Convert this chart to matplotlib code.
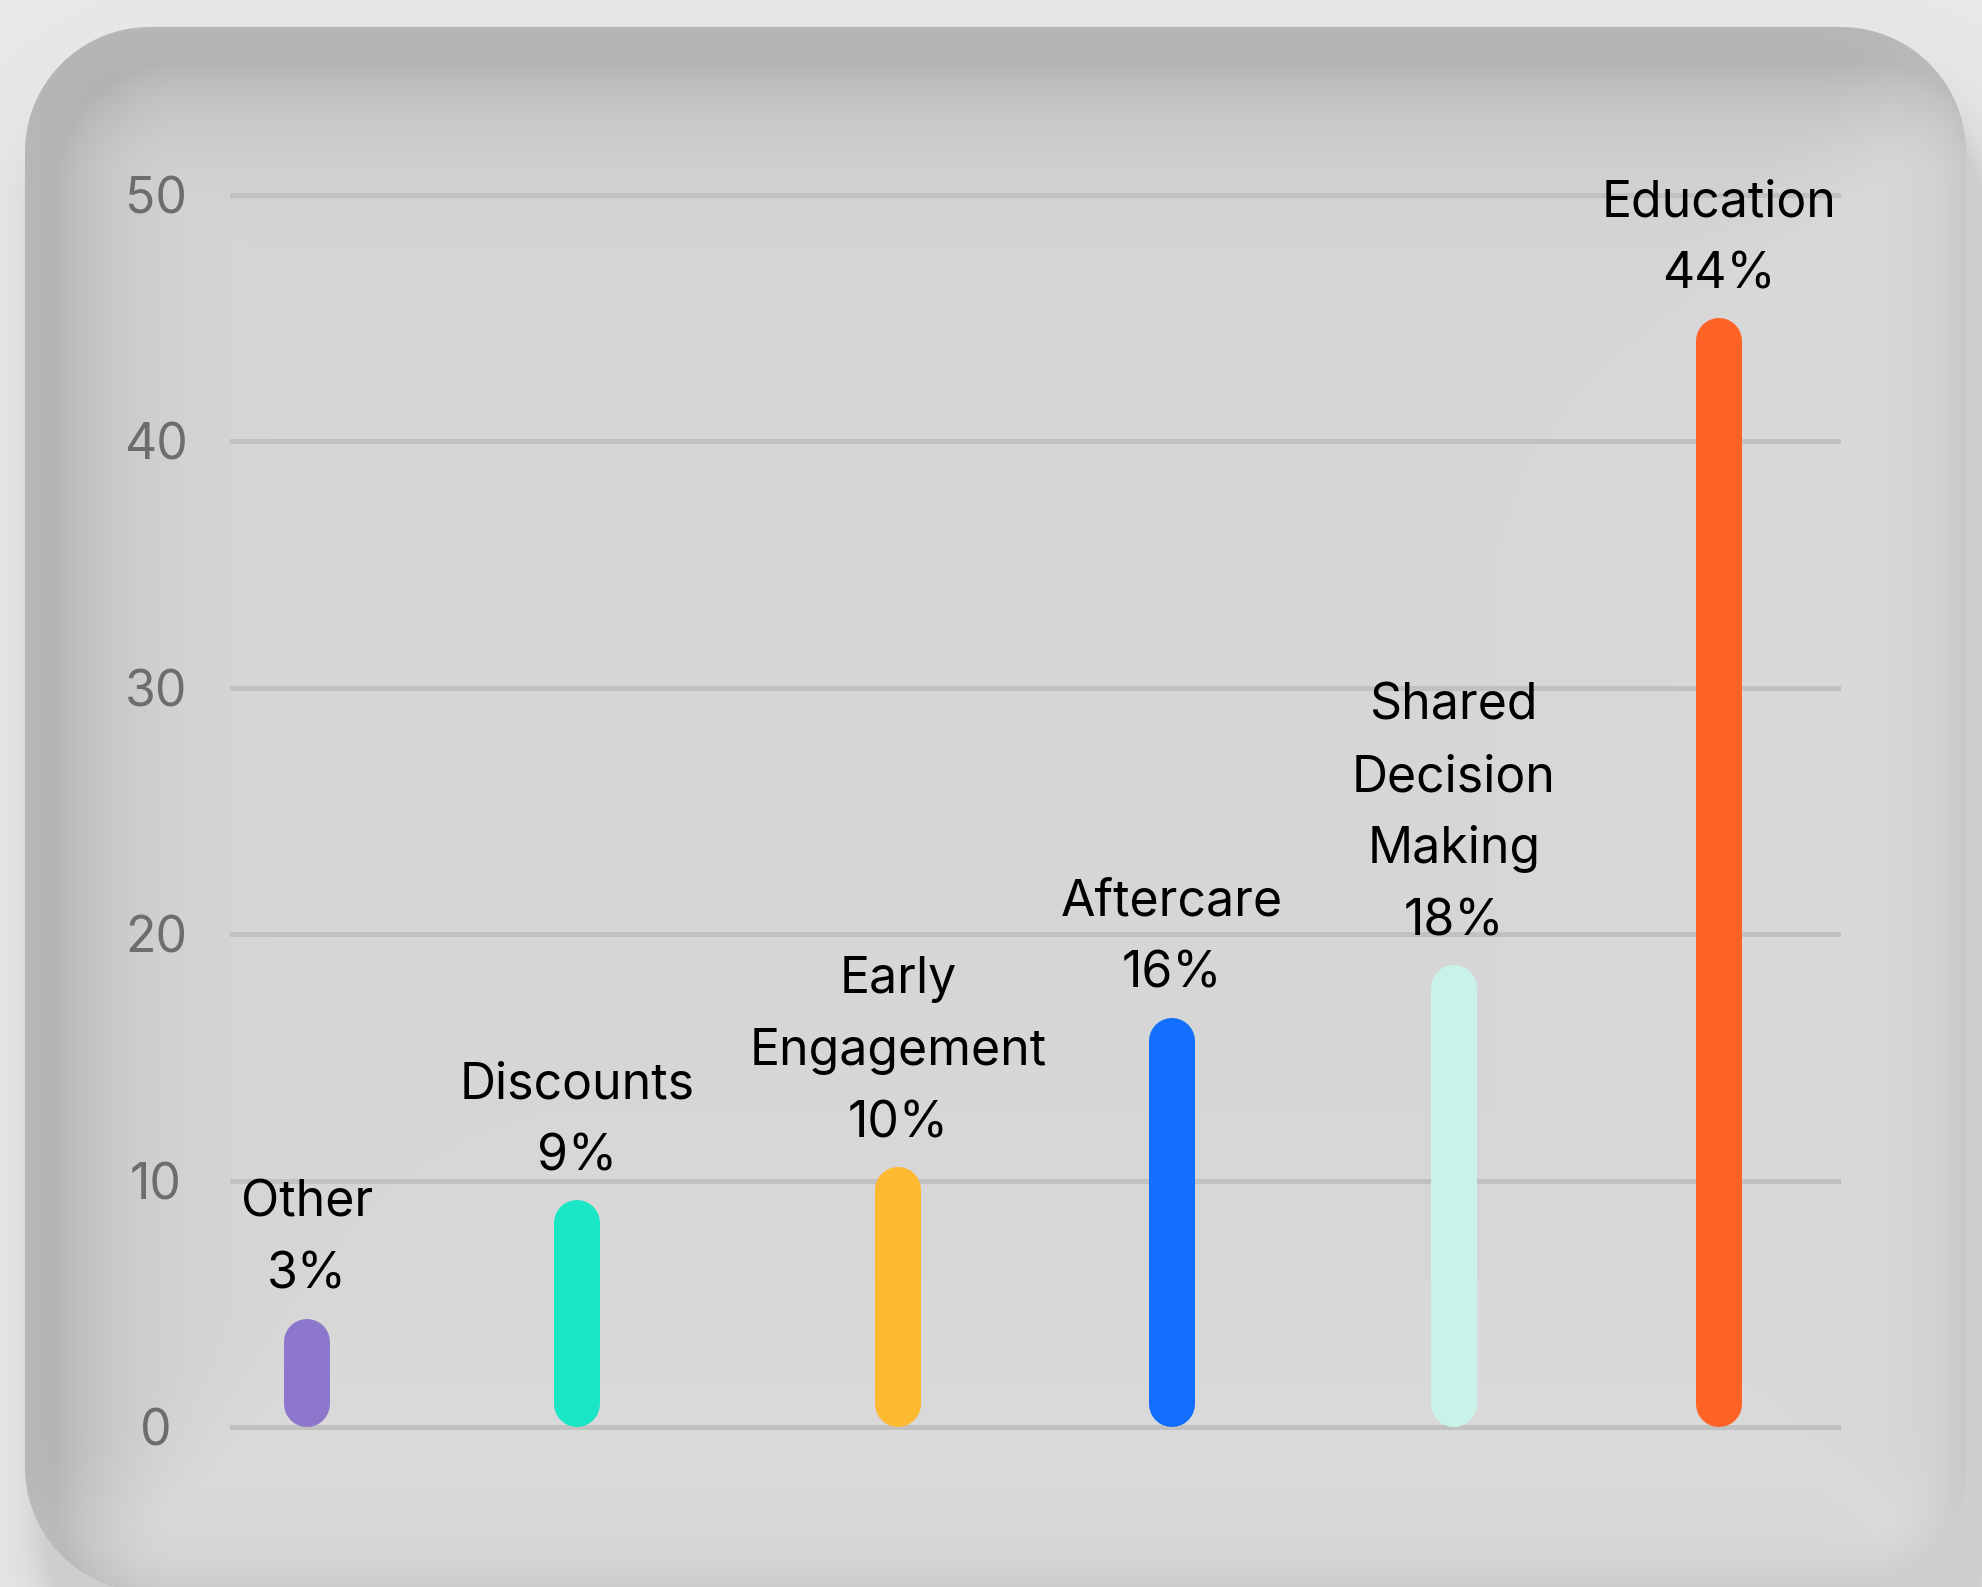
import numpy as np
import matplotlib
matplotlib.use("Agg")
import matplotlib.pyplot as plt

# donnees
categories = ["Other", "Discounts", "Early\nEngagement", "Aftercare", "Shared\nDecision\nMaking", "Education"]
pct_labels = ["3%", "9%", "10%", "16%", "18%", "44%"]
bar_heights = [4.4, 9.2, 10.55, 16.6, 18.75, 45.0]
colors = ["#8d77cd", "#1ae5c4", "#feb933", "#126ffe", "#c9f2ea", "#ff6225"]
yticks = [0, 10, 20, 30, 40, 50]

# mise en page (pixels de la figure)
W, H = 1983, 1587
DPI = 100
bar_x = [307, 577, 898, 1172, 1454, 1719]
x_left, x_right = 230, 1841
y_zero, y_fifty = 1427, 195
tick_center = 156
bar_w = 46
gap = 30
line_h = 72
fs = 36

plt.rcParams['font.family'] = ['Inter', 'DejaVu Sans']

fig = plt.figure(figsize=(W / DPI, H / DPI), dpi=DPI)


def sdf_rr(px, py, x0, y0, x1, y1, r):
    '''distance signee a un rectangle arrondi'''
    cx, cy = (x0 + x1) / 2, (y0 + y1) / 2
    hw, hh = (x1 - x0) / 2, (y1 - y0) / 2
    qx = np.abs(px - cx) - (hw - r)
    qy = np.abs(py - cy) - (hh - r)
    out = np.hypot(np.maximum(qx, 0), np.maximum(qy, 0))
    return out + np.minimum(np.maximum(qx, qy), 0) - r


# fond : carte arrondie avec ombre interieure
yy, xx = np.mgrid[0:H, 0:W].astype(float) + 0.5
card = (25, 27, 1966, 1592)
rad = 125
d = sdf_rr(xx, yy, *card, rad)

outside = np.full((H, W), 0.913)
d_drop = sdf_rr(xx, yy, card[0] + 20, card[1] + 70, card[2] + 20, card[3] + 70, rad)
outside -= 0.10 * np.exp(-np.maximum(d_drop, 0) / 25)

inside = np.full((H, W), 0.843)
d_dark = sdf_rr(xx, yy, card[0] + 30, card[1] + 35, card[2] + 30, card[3] + 35, rad)
inside -= 0.17 * np.exp(-np.maximum(-d_dark, 0) / 75)
d_light = sdf_rr(xx, yy, card[0] - 30, card[1] - 40, card[2] - 30, card[3] - 40, rad)
inside += 0.06 * np.exp(-np.maximum(-d_light, 0) / 130)

a = np.clip(0.5 - d, 0, 1)
img = a * inside + (1 - a) * outside
img = np.clip(img, 0, 1)

bg = fig.add_axes([0, 0, 1, 1])
bg.imshow(np.dstack([img, img * 0.998, img]), extent=[0, W, H, 0], aspect='auto', interpolation='bilinear')
bg.set_xlim(0, W)
bg.set_ylim(H, 0)
bg.axis('off')

# axes principal
px_per_unit = (y_zero - y_fifty) / 50.0
ylo, yhi = -1, 51
ax_bottom = y_zero + 1 * px_per_unit
ax_top = y_fifty - 1 * px_per_unit
ax = fig.add_axes([x_left / W, (H - ax_bottom) / H, (x_right - x_left) / W, (ax_bottom - ax_top) / H])
ax.set_xlim(x_left, x_right)
ax.set_ylim(ylo, yhi)
ax.patch.set_alpha(0)
for s in ax.spines.values():
    s.set_visible(False)
ax.set_xticks([])
ax.set_yticks(yticks)
ax.set_yticklabels([str(t) for t in yticks], ha='center')
ax.tick_params(axis='y', length=0, pad=(x_left - tick_center) * 72.0 / DPI, labelsize=fs, labelcolor='#6d6d6d')
ax.grid(axis='y', color='#c1c1c1', linewidth=3.6)
ax.set_axisbelow(True)

r = (bar_w / 2) / px_per_unit
lw = bar_w * 72.0 / DPI
for x, h, c, cat, pct in zip(bar_x, bar_heights, colors, categories, pct_labels):
    ax.plot([x, x], [r, h - r], color=c, linewidth=lw, solid_capstyle='round', zorder=3)
    lines = cat.split("\n") + [pct]
    for i, t in enumerate(reversed(lines)):
        ax.annotate(t, (x, h), xytext=(0, (gap + i * line_h) * 72.0 / DPI), textcoords='offset points',
                    ha='center', va='baseline', fontsize=fs, color='black', annotation_clip=False)

fig.savefig("out.png", dpi=DPI)
